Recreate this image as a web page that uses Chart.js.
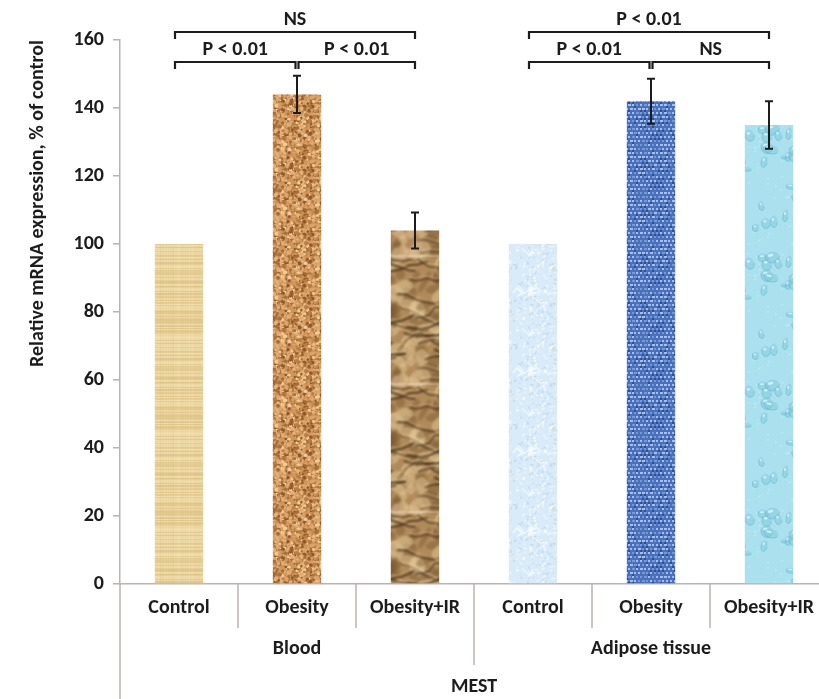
<!DOCTYPE html>
<html>
<head>
<meta charset="utf-8">
<script src="https://cdn.jsdelivr.net/npm/chart.js@4.4.1/dist/chart.umd.min.js"></script>
<style>
  html, body { margin: 0; padding: 0; background: #fff; overflow: hidden; }
  #wrap { width: 830px; height: 699px; }
</style>
</head>
<body>
<div id="wrap"><canvas id="chart" width="830" height="699"></canvas></div>
<script>
// ---- data ----
const categories = ['Control', 'Obesity', 'Obesity+IR', 'Control', 'Obesity', 'Obesity+IR'];
const groups = ['Blood', 'Adipose tissue'];
const groupSize = 3;
const geneLabel = 'MEST';
const yAxisTitle = 'Relative mRNA expression, % of control';
const expression = [100, 144, 104, 100, 142, 135];
const expressionErr = [0, 5.5, 5.3, 0, 6.6, 7];
const yTickValues = [0, 20, 40, 60, 80, 100, 120, 140, 160];
// significance brackets: category index range, nesting level, label
const bracketFrom = [0, 1, 0, 3, 4, 3];
const bracketTo = [1, 2, 2, 4, 5, 5];
const bracketLevel = [0, 0, 1, 0, 0, 1];
const bracketText = ['P < 0.01', 'P < 0.01', 'NS', 'P < 0.01', 'NS', 'P < 0.01'];

// ---- styling ----
const FONT = 'Carlito, Lato, "Liberation Sans", sans-serif';
const TEXT = '#1c1c1c';
const AXIS = '#bcb2b0';
const FS = 20;

// small deterministic hash used for texture grain
function grain(seed) {
  let s = seed >>> 0;
  return function () {
    s = (s + 0x6D2B79F5) >>> 0;
    let t = s;
    t = Math.imul(t ^ (t >>> 15), t | 1);
    t ^= t + Math.imul(t ^ (t >>> 7), t | 61);
    return ((t ^ (t >>> 14)) >>> 0) / 4294967296;
  };
}

function tile(w, h, paint) {
  const c = document.createElement('canvas');
  c.width = w; c.height = h;
  paint(c.getContext('2d'), w, h);
  return c;
}

// draw a shape on every wrapped copy so the tile repeats seamlessly
function wrapped(w, h, fn) {
  for (let dx = -w; dx <= w; dx += w) for (let dy = -h; dy <= h; dy += h) fn(dx, dy);
}

function softened(src, px) {
  return tile(src.width, src.height, (g) => {
    g.filter = 'blur(' + px + 'px)';
    for (let i = -1; i <= 1; i++) for (let j = -1; j <= 1; j++) g.drawImage(src, i * src.width, j * src.height);
  });
}

// papyrus: pale straw with fine horizontal/vertical fibres
const papyrus = tile(48, 96, (g, w, h) => {
  const r = grain(11);
  g.fillStyle = '#ecd69e'; g.fillRect(0, 0, w, h);
  for (let y = 0; y < h; y++) {
    g.fillStyle = r() < 0.5 ? 'rgba(185,145,70,' + (0.04 + r() * 0.15) + ')' : 'rgba(255,246,215,' + (0.1 + r() * 0.3) + ')';
    g.fillRect(0, y, w, 1);
  }
  for (let x = 0; x < w; x++) {
    g.fillStyle = 'rgba(190,150,80,' + (r() * 0.12) + ')';
    g.fillRect(x, 0, 1, h);
  }
});

// cork: orange-brown speckle
const corkRaw = tile(64, 64, (g, w, h) => {
  const r = grain(23);
  g.fillStyle = '#cf945a'; g.fillRect(0, 0, w, h);
  const cols = ['#8f5a2c', '#a96f39', '#e3b27b', '#f1cb97', '#b97d45', '#dca36a'];
  for (let i = 0; i < 1000; i++) {
    const c = cols[Math.floor(r() * cols.length)], x = r() * w, y = r() * h, rad = 0.6 + r() * 1.5;
    wrapped(w, h, (dx, dy) => { g.fillStyle = c; g.beginPath(); g.arc(x + dx, y + dy, rad, 0, Math.PI * 2); g.fill(); });
  }
});
const cork = softened(corkRaw, 0.4);

// crumpled kraft paper: soft light/dark patches with wavy creases
const crumpledRaw = tile(64, 128, (g, w, h) => {
  const r = grain(37);
  g.fillStyle = '#b08a5a'; g.fillRect(0, 0, w, h);
  for (let i = 0; i < 70; i++) {
    const x = r() * w, y = r() * h, rx = 4 + r() * 9, ry = 3 + r() * 6, rot = r() * Math.PI;
    const c = r() < 0.5 ? 'rgba(228,200,152,0.5)' : 'rgba(125,90,50,0.45)';
    wrapped(w, h, (dx, dy) => { g.fillStyle = c; g.beginPath(); g.ellipse(x + dx, y + dy, rx, ry, rot, 0, Math.PI * 2); g.fill(); });
  }
  for (let i = 0; i < 22; i++) {
    const pts = [];
    let x = r() * w, y = r() * h;
    const dir = (r() - 0.5) * 1.2;
    for (let k = 0; k < 5; k++) { pts.push([x, y]); x += 5 + r() * 6; y += dir * 8 + (r() - 0.5) * 8; }
    const wd = 0.8 + r() * 1.8;
    wrapped(w, h, (dx, dy) => {
      g.strokeStyle = 'rgba(70,44,18,0.8)'; g.lineWidth = wd;
      g.beginPath(); pts.forEach((p, k) => k ? g.lineTo(p[0] + dx, p[1] + dy) : g.moveTo(p[0] + dx, p[1] + dy)); g.stroke();
      g.strokeStyle = 'rgba(245,222,180,0.55)'; g.lineWidth = 1;
      g.beginPath(); pts.forEach((p, k) => k ? g.lineTo(p[0] + dx, p[1] + dy - 2) : g.moveTo(p[0] + dx, p[1] + dy - 2)); g.stroke();
    });
  }
});
const crumpled = softened(crumpledRaw, 0.9);

// pale ice blue with white veins
const ice = tile(64, 80, (g, w, h) => {
  const r = grain(41);
  g.fillStyle = '#d9ebf8'; g.fillRect(0, 0, w, h);
  for (let i = 0; i < 300; i++) {
    g.fillStyle = r() < 0.5 ? 'rgba(192,217,238,0.7)' : 'rgba(242,249,254,0.8)';
    g.fillRect(r() * w, r() * h, 1 + r() * 2, 1 + r() * 2);
  }
  g.strokeStyle = 'rgba(255,255,255,0.8)'; g.lineWidth = 1;
  for (let i = 0; i < 10; i++) {
    let x = r() * w, y = r() * h;
    g.beginPath(); g.moveTo(x, y);
    for (let k = 0; k < 4; k++) { x += (r() - 0.5) * 18; y += (r() - 0.5) * 18; g.lineTo(x, y); }
    g.stroke();
  }
});

// blue knit weave
const knitRaw = tile(48, 48, (g, w, h) => {
  const r = grain(53);
  g.fillStyle = '#4a70bb'; g.fillRect(0, 0, w, h);
  for (let y = 0; y < h; y += 4) for (let x = 0; x < w; x += 4) {
    const o = ((y / 4) % 2) * 2;
    g.fillStyle = r() < 0.55 ? 'rgba(175,200,240,0.9)' : 'rgba(125,160,220,0.85)';
    g.fillRect(x + o, y, 2 + (r() < 0.3 ? 1 : 0), 2);
    if (r() < 0.35) { g.fillStyle = 'rgba(40,70,135,0.75)'; g.fillRect(x + 2 - o, y + 2, 2, 2); }
  }
});
const knit = softened(knitRaw, 0.35);

// aqua with water drops
const dropsRaw = tile(64, 128, (g, w, h) => {
  const r = grain(67);
  g.fillStyle = '#abe0ef'; g.fillRect(0, 0, w, h);
  for (let i = 0; i < 40; i++) {
    const x = r() * w, y = r() * h;
    wrapped(w, h, (dx, dy) => { g.fillStyle = 'rgba(200,240,250,0.5)'; g.fillRect(x + dx, y + dy, 2, 2); });
  }
  for (let i = 0; i < 22; i++) {
    const x = r() * w, y = r() * h, rx = 2.5 + r() * 6, ry = 2 + r() * 4.5, rot = (r() - 0.5) * 0.8;
    wrapped(w, h, (dx, dy) => {
      g.fillStyle = 'rgba(125,200,220,0.45)';
      g.beginPath(); g.ellipse(x + dx, y + dy, rx, ry, rot, 0, Math.PI * 2); g.fill();
      g.strokeStyle = 'rgba(90,172,198,0.45)'; g.lineWidth = 1;
      g.beginPath(); g.ellipse(x + dx, y + dy, rx, ry, rot, 0.2, Math.PI * 1.2); g.stroke();
      g.fillStyle = 'rgba(240,252,255,0.7)';
      g.beginPath(); g.ellipse(x + dx - rx * 0.25, y + dy - ry * 0.35, rx * 0.4, ry * 0.22, rot, 0, Math.PI * 2); g.fill();
    });
  }
});
const drops = softened(dropsRaw, 0.6);

const ctx = document.getElementById('chart').getContext('2d');
const barFills = [papyrus, cork, crumpled, ice, knit, drops].map((t) => ctx.createPattern(t, 'repeat'));

// error bars, significance brackets and the grouped category axis
const annotations = {
  id: 'annotations',
  afterDatasetsDraw(chart) {
    const { ctx: g, scales: { x, y }, chartArea } = chart;
    g.save();
    g.strokeStyle = TEXT; g.lineWidth = 2;
    expression.forEach((v, i) => {
      const e = expressionErr[i];
      if (!e) return;
      const px = x.getPixelForValue(i);
      const top = y.getPixelForValue(v + e), bot = y.getPixelForValue(v - e);
      g.beginPath();
      g.moveTo(px, top); g.lineTo(px, bot);
      g.moveTo(px - 4, top); g.lineTo(px + 4, top);
      g.moveTo(px - 4, bot); g.lineTo(px + 4, bot);
      g.stroke();
    });

    // brackets
    g.lineWidth = 2.2;
    g.font = 'bold ' + FS + 'px ' + FONT;
    g.fillStyle = TEXT; g.textAlign = 'center'; g.textBaseline = 'alphabetic';
    bracketText.forEach((label, k) => {
      const ly = bracketLevel[k] === 0 ? chartArea.top + 22 : chartArea.top - 8;
      const sharedL = bracketFrom.some((f, m) => m !== k && bracketLevel[m] === bracketLevel[k] && bracketTo[m] === bracketFrom[k]);
      const sharedR = bracketFrom.some((f, m) => m !== k && bracketLevel[m] === bracketLevel[k] && f === bracketTo[k]);
      const x1 = x.getPixelForValue(bracketFrom[k]) + (sharedL ? 1.5 : -4);
      const x2 = x.getPixelForValue(bracketTo[k]) + (sharedR ? -1.5 : 0);
      g.beginPath();
      g.moveTo(x1, ly + 7); g.lineTo(x1, ly); g.lineTo(x2, ly); g.lineTo(x2, ly + 7);
      g.stroke();
      g.fillText(label, (x1 + x2) / 2, ly - 7);
    });

    // category dividers and group labels below the axis
    const base = chartArea.bottom;
    const step = x.getPixelForValue(1) - x.getPixelForValue(0);
    g.strokeStyle = AXIS; g.lineWidth = 1.5;
    g.beginPath();
    g.moveTo(chartArea.left, base); g.lineTo(chartArea.left, chart.height);
    for (let i = 1; i < categories.length; i++) {
      const bx = x.getPixelForValue(i) - step / 2;
      g.moveTo(bx, base);
      g.lineTo(bx, base + (i % groupSize === 0 ? 81 : 44));
    }
    g.stroke();

    g.fillStyle = TEXT; g.textBaseline = 'middle';
    groups.forEach((name, gi) => {
      const a = x.getPixelForValue(gi * groupSize), b = x.getPixelForValue(gi * groupSize + groupSize - 1);
      g.fillText(name, (a + b) / 2, base + 65);
    });
    g.fillText(geneLabel, (chartArea.left + x.getPixelForValue(categories.length - 1) + step / 2) / 2, base + 103);
    g.restore();
  }
};

new Chart(ctx, {
  type: 'bar',
  data: {
    labels: categories,
    datasets: [{
      data: expression,
      backgroundColor: barFills,
      borderWidth: 0,
      barPercentage: 0.41,
      categoryPercentage: 1
    }]
  },
  options: {
    responsive: false,
    animation: false,
    events: [],
    layout: { padding: { top: 40, right: 2, bottom: 0, left: 0 } },
    plugins: { legend: { display: false }, tooltip: { enabled: false } },
    scales: {
      x: {
        grid: { display: false, drawTicks: false },
        border: { display: true, color: AXIS, width: 1.5 },
        ticks: { color: TEXT, font: { family: FONT, size: FS, weight: 'bold' }, padding: 12, maxRotation: 0, autoSkip: false },
        afterFit(s) { s.height = 115; }
      },
      y: {
        min: 0, max: 160,
        afterBuildTicks(s) { s.ticks = yTickValues.map((v) => ({ value: v })); },
        grid: { drawOnChartArea: false, drawTicks: true, tickLength: 7, color: AXIS, lineWidth: 1.5 },
        border: { display: true, color: AXIS, width: 1.5 },
        ticks: { color: TEXT, font: { family: FONT, size: FS, weight: 'bold' }, padding: 9 },
        title: { display: true, text: yAxisTitle, align: 'end', color: TEXT, font: { family: FONT, size: 20, weight: 'bold' }, padding: { top: 26, bottom: 0 } },
        afterFit(s) { s.width = 120; }
      }
    }
  },
  plugins: [annotations]
});
</script>
</body>
</html>
